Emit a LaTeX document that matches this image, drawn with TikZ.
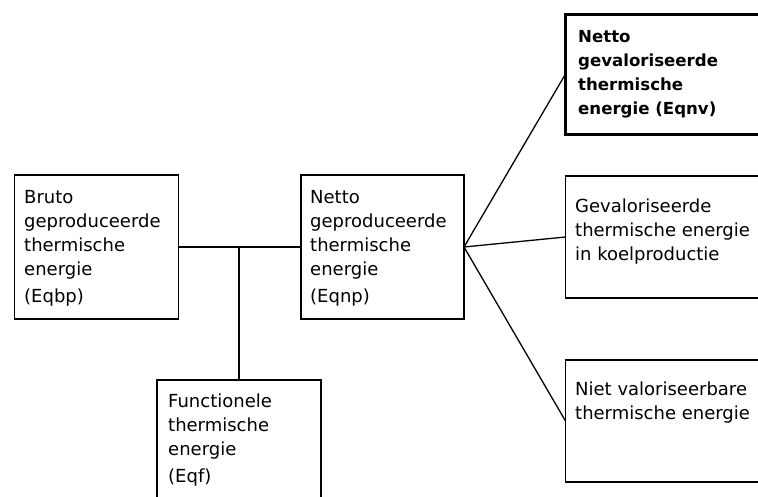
\documentclass[tikz,border=0pt]{standalone}
\usepackage{fontspec}
\setmainfont{DejaVu Sans}
\newcommand{\mylines}[1]{\begin{tabular}[t]{@{}l@{}}#1\end{tabular}}
\begin{document}
\begin{tikzpicture}[x=1pt,y=-1pt,
  box/.style={draw, rectangle, line width=1.3pt, inner sep=0pt, outer sep=0pt, anchor=north west},
  thickbox/.style={box, line width=3pt},
  lbl/.style={anchor=base west, inner sep=0pt, font=\fontsize{18}{24}\selectfont},
  blbl/.style={lbl, font=\fontsize{16.6}{24.3}\selectfont\bfseries},
  conn/.style={line width=1.3pt}]
\useasboundingbox (0,0) rectangle (758,496);
\clip (0,0) rectangle (758,496);
% boxes
\node[box, minimum width=164pt, minimum height=144pt] (bruto) at (14.5,175) {};
\node[box, minimum width=163pt, minimum height=144pt] (netto) at (301,175) {};
\node[box, minimum width=164pt, minimum height=150pt] (funct) at (157,380) {};
\node[thickbox, minimum width=250pt, minimum height=120pt] (nv) at (565.5,14) {};
\node[box, minimum width=250pt, minimum height=122pt] (koel) at (565.5,176) {};
\node[box, minimum width=250pt, minimum height=122pt] (niet) at (565.5,360) {};
% labels
\node[lbl] (tbruto) at (24,203) {\mylines{Bruto\\geproduceerde\\thermische\\energie\\[3pt](Eqbp)}};
\node[lbl] (tnetto) at (310,203) {\mylines{Netto\\geproduceerde\\thermische\\energie\\[3pt](Eqnp)}};
\node[lbl] (tfunct) at (168,407) {\mylines{Functionele\\thermische\\energie\\[3pt](Eqf)}};
\node[blbl] (tnv) at (578,42) {\mylines{Netto\\gevaloriseerde\\thermische\\energie (Eqnv)}};
\node[lbl] (tkoel) at (575,212) {\mylines{Gevaloriseerde\\thermische energie\\in koelproductie}};
\node[lbl] (tniet) at (575,395) {\mylines{Niet valoriseerbare\\thermische energie}};
% connectors
\coordinate (j) at (funct.north |- bruto.east);
\draw[conn] (bruto.east) -- (j) -- (netto.west);
\draw[conn] (j) -- (funct.north);
\draw[conn] (netto.east) -- (nv.west);
\draw[conn] (netto.east) -- (koel.west);
\draw[conn] (netto.east) -- (niet.west);
\end{tikzpicture}
\end{document}
